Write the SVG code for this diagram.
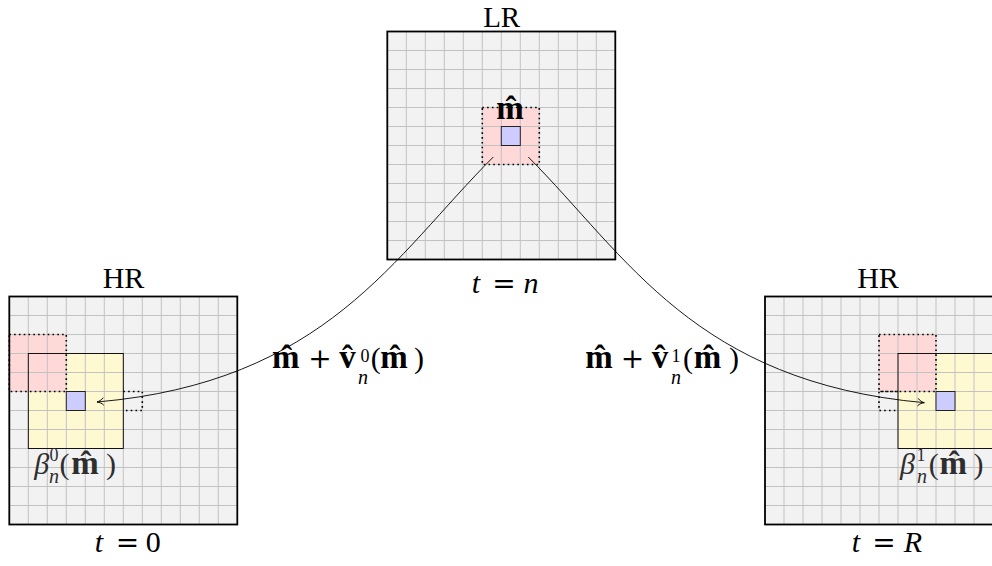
<svg xmlns="http://www.w3.org/2000/svg" xmlns:xlink="http://www.w3.org/1999/xlink" width="992" height="566" viewBox="0 0 992 566">
<style>
.bg{fill:#f2f2f2;stroke:none}
.grid{fill:none;stroke:#c2c2c2;stroke-width:1}
.frame{fill:none;stroke:#000;stroke-width:1.8}
.pink{fill:#ffd8d8;stroke:none}
.yel{fill:#fff9d2;stroke:none}
.yb{fill:none;stroke:#000;stroke-width:0.9}
.blue{fill:#ccccff;stroke:#222;stroke-width:1}
.dot{fill:none;stroke:#000;stroke-width:1.6;stroke-dasharray:1.6 3.2}
.t{font-family:"Liberation Serif",serif;font-size:30px;fill:#000}
.g{fill:#2e2e2e}
.b{font-weight:bold;font-size:33px}
.i{font-style:italic}
.s{font-size:18px}
.sn{font-size:20px;font-style:italic}
.op{font-family:"DejaVu Serif",serif;font-size:28px}
.con{fill:none;stroke:#000;stroke-width:0.9}
</style>
<defs>
<path id="gridp" class="grid" d="M19 0V228M38 0V228M57 0V228M76 0V228M95 0V228M114 0V228M133 0V228M152 0V228M171 0V228M190 0V228M209 0V228M0 19H228M0 38H228M0 57H228M0 76H228M0 95H228M0 114H228M0 133H228M0 152H228M0 171H228M0 190H228M0 209H228"/>
<marker id="arr" markerUnits="userSpaceOnUse" viewBox="-8 -5 9 10" refX="0" refY="0" markerWidth="9" markerHeight="10" orient="auto" overflow="visible">
<path d="M-6.5 -3.8C-5 -1.5 -1.5 -0.3 0 0C-1.5 0.3 -5 1.5 -6.5 3.8" fill="none" stroke="#000" stroke-width="0.9"/>
</marker>
</defs>

<g id="lr">
<g transform="translate(387.3,31.5)">
<rect class="bg" x="0" y="0" width="228" height="228"/>
<rect class="pink" x="95" y="76" width="57" height="57"/>
<use xlink:href="#gridp" href="#gridp"/>
<rect class="blue" x="114" y="95" width="19" height="19"/>
<rect class="dot" x="95" y="76" width="57" height="57"/>
<rect class="frame" x="0" y="0" width="228" height="228"/>
</g>
<text class="t b" x="510" y="119" text-anchor="middle">m̂</text>
<text class="t" x="501.7" y="26.5" text-anchor="middle" style="font-size:29px">LR</text>
<text class="t" text-anchor="middle"><tspan x="475.8" y="293" class="i">t</tspan><tspan x="504" y="293" class="op">=</tspan><tspan x="531" y="293" class="i">n</tspan></text>
</g>

<g id="hr0">
<g transform="translate(9.3,296.5)">
<rect class="bg" x="0" y="0" width="228" height="228"/>
<rect class="yel" x="19" y="57" width="95" height="95"/>
<rect class="pink" x="0" y="38" width="57" height="57"/>
<use xlink:href="#gridp" href="#gridp"/>
<rect class="blue" x="57" y="95" width="19" height="19"/>
<rect class="yb" x="19" y="57" width="95" height="95"/>
<rect class="dot" x="0" y="38" width="57" height="57"/>
<path class="dot" d="M114 95H133V114H114"/>
<rect class="frame" x="0" y="0" width="228" height="228"/>
</g>
<text class="t" x="123.5" y="288" text-anchor="middle">HR</text>
<text class="t g" text-anchor="middle"><tspan x="41.7" y="474" class="i">β</tspan><tspan x="54" y="461" class="s">0</tspan><tspan x="54" y="483" class="sn">n</tspan><tspan x="64.5" y="474">(</tspan><tspan x="85" y="474" class="b">m̂</tspan><tspan x="111" y="474">)</tspan></text>
<text class="t" text-anchor="middle"><tspan x="99" y="552" class="i">t</tspan><tspan x="127.5" y="552" class="op">=</tspan><tspan x="153.3" y="552">0</tspan></text>
</g>

<g id="hr1">
<g transform="translate(765,296.5)">
<rect class="bg" x="0" y="0" width="228" height="228"/>
<rect class="yel" x="133" y="57" width="95" height="95"/>
<rect class="pink" x="114" y="38" width="57" height="57"/>
<use xlink:href="#gridp" href="#gridp"/>
<rect class="blue" x="171" y="95" width="19" height="19"/>
<rect class="yb" x="133" y="57" width="95" height="95"/>
<rect class="dot" x="114" y="38" width="57" height="57"/>
<path class="dot" d="M133 95H114V114H133"/>
<rect class="frame" x="0" y="0" width="228" height="228"/>
</g>
<text class="t" x="878" y="288" text-anchor="middle">HR</text>
<text class="t g" text-anchor="middle"><tspan x="907.5" y="474" class="i">β</tspan><tspan x="921" y="461" class="s">1</tspan><tspan x="922" y="483" class="sn">n</tspan><tspan x="933.7" y="474">(</tspan><tspan x="953.3" y="474" class="b">m̂</tspan><tspan x="978.5" y="474">)</tspan></text>
<text class="t" text-anchor="middle"><tspan x="855.8" y="552" class="i">t</tspan><tspan x="884" y="552" class="op">=</tspan><tspan x="913" y="552" class="i">R</tspan></text>
</g>

<g id="connectors">
<path class="con" d="M493.3 157C394 256 326 382 97 402" marker-end="url(#arr)"/>
<path class="con" d="M528.3 157C627 256 695 382 924.3 402.7" marker-end="url(#arr)"/>
<text class="t" text-anchor="middle"><tspan x="285.8" y="368" class="b">m̂</tspan><tspan x="320" y="368" class="op">+</tspan><tspan x="347.5" y="368" class="b">v̂</tspan><tspan x="365" y="362" class="s">0</tspan><tspan x="363" y="384" class="sn">n</tspan><tspan x="375.8" y="368">(</tspan><tspan x="394" y="368" class="b">m̂</tspan><tspan x="419" y="368">)</tspan></text>
<text class="t" text-anchor="middle"><tspan x="599" y="368" class="b">m̂</tspan><tspan x="632.5" y="368" class="op">+</tspan><tspan x="660" y="368" class="b">v̂</tspan><tspan x="676" y="362" class="s">1</tspan><tspan x="676" y="384" class="sn">n</tspan><tspan x="688" y="368">(</tspan><tspan x="707.5" y="368" class="b">m̂</tspan><tspan x="734" y="368">)</tspan></text>
</g>
</svg>
